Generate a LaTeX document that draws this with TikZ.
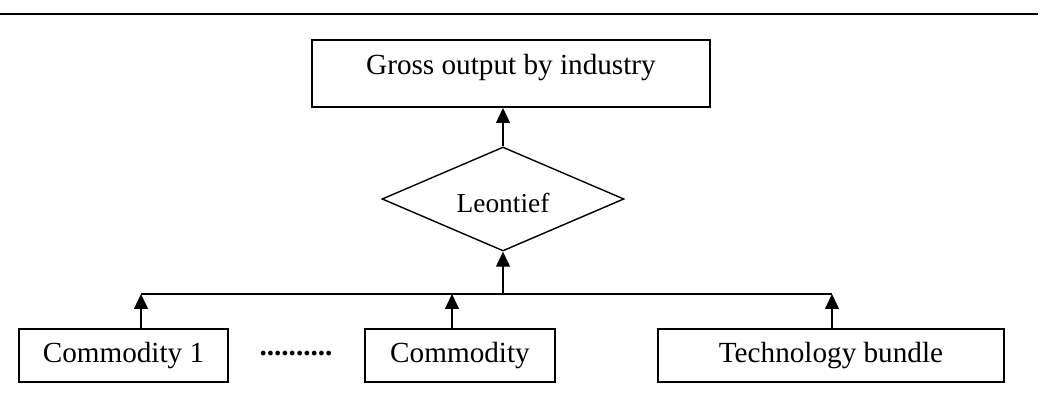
\documentclass[tikz,border=0pt]{standalone}
\usepackage{fontspec}
\setmainfont{Liberation Serif}
\usetikzlibrary{shapes.geometric,arrows.meta}
\begin{document}
\begin{tikzpicture}[x=0.5pt,y=-0.5pt,
  box/.style={draw,line width=1pt,rectangle,inner sep=0pt,minimum height=26.5pt,font=\fontsize{14.6}{17}\selectfont},
  conn/.style={line width=0.65pt},
  arr/.style={line width=0.65pt,-{Triangle[length=7.5pt,width=7pt]}},
  txt/.style={inner sep=0pt,font=\fontsize{14.6}{17}\selectfont}]
\useasboundingbox (0,0) rectangle (1040,399);
% top rule
\coordinate (rl) at (0,14);
\coordinate (rr) at (1038,14);
\draw[line width=1pt] (rl) -- (rr);
% top box
\node[box,minimum width=199pt,minimum height=33.5pt] (top) at (511,73.5) {};
\node[txt] (topt) at (511,68) {Gross output by industry};
% diamond
\node[draw,line width=0.7pt,diamond,inner sep=0pt,minimum width=121pt,minimum height=52pt] (dia) at (503,199) {};
\node[txt,font=\fontsize{13.7}{16}\selectfont] (diat) at (503,203) {Leontief};
% bottom boxes
\node[box,minimum width=104.5pt] (c1) at (123.5,355.5) {Commodity 1};
\node[box,minimum width=95pt] (c2) at (460,355.5) {Commodity};
\node[box,minimum width=173pt] (tb) at (831,355.5) {Technology bundle};
\node[txt,font=\fontsize{14.6}{17}\bfseries] (dots) at (296,354) {..........};
% bus
\coordinate (b1) at (141,294);
\coordinate (b2) at (452,294);
\coordinate (b3) at (832,294);
\coordinate (bm) at (503,294);
\draw[conn] (b1) -- (b3);
\draw[arr] (c1.north -| b1) -- (b1);
\draw[arr] (c2.north -| b2) -- (b2);
\draw[arr] (tb.north -| b3) -- (b3);
\draw[arr] (bm) -- (dia.south);
\draw[arr] (dia.north) -- (dia.north |- top.south);
\end{tikzpicture}
\end{document}
